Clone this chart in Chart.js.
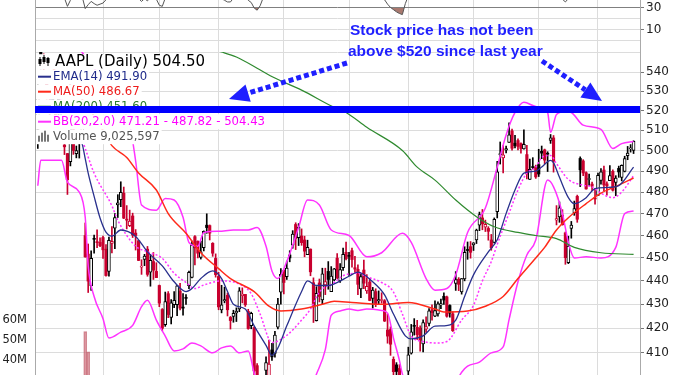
<!DOCTYPE html>
<html>
<head>
<meta charset="utf-8">
<script src="https://cdn.jsdelivr.net/npm/chart.js@4.4.0/dist/chart.umd.min.js"></script>
<style>
  html, body { margin: 0; padding: 0; background: #fff; }
</style>
</head>
<body>
<canvas id="chart" width="685" height="375"></canvas>
<script>
// AAPL daily, Dec 31 2012 .. Oct 17 2013 (bar index 0..201)
const opens = [510.5,553.8,547.9,537.0,522.0,529.2,522.5,528.6,521.0,502.7,
  498.5,494.6,510.3,498.5,504.6,508.8,460.0,451.7,437.8,458.5,
  457.0,456.9,459.1,453.9,444.1,456.5,463.3,474.0,476.5,479.5,
  467.2,464.5,468.9,461.1,457.7,446.0,449.3,453.9,443.8,448.4,
  444.1,438.0,427.8,421.5,434.5,424.5,429.8,429.8,435.6,428.5,
  432.8,437.9,441.5,459.5,457.4,450.2,454.6,464.7,464.5,456.5,
  449.8,441.9,427.6,431.4,433.8,424.5,424.9,426.4,428.1,433.7,
  434.2,427.0,421.1,420.3,404.9,388.0,392.6,403.0,393.5,411.2,
  409.8,420.5,435.1,444.5,441.8,451.3,455.7,465.0,459.0,459.8,
  458.0,451.5,453.9,439.2,423.2,439.1,431.9,438.2,444.1,435.4,
  440.4,449.9,440.0,445.7,452.5,450.7,453.2,445.7,445.0,436.5,
  444.7,435.7,439.5,432.5,435.4,431.4,431.6,431.5,419.3,419.5,
  407.4,405.2,403.8,399.0,392.0,402.7,409.9,420.9,420.4,420.1,
  413.6,419.6,422.0,427.7,425.0,426.0,429.7,433.4,433.1,429.5,
  426.0,438.9,440.7,435.3,440.8,453.6,455.0,455.8,458.0,464.7,
  468.0,463.8,463.2,458.0,456.9,470.9,497.9,496.4,500.2,504.0,
  509.7,503.6,504.9,503.4,500.8,498.0,486.0,491.7,492.0,493.1,
  499.6,500.3,498.4,505.0,506.2,467.0,468.5,469.3,461.2,447.9,
  463.2,470.3,478.0,496.1,494.9,489.2,486.0,483.8,477.3,478.5,
  485.6,490.5,483.9,485.4,489.9,484.6,491.3,487.0,489.8,497.5,
  500.8,500.0];
const highs = [535.4,555.0,549.7,538.6,529.3,531.9,525.0,528.7,525.3,507.5,
  498.6,509.4,510.6,502.2,507.9,514.9,465.7,456.2,453.2,460.2,
  462.6,459.0,459.7,455.9,459.3,464.0,470.0,478.8,484.9,482.4,
  473.7,471.6,470.2,462.7,457.7,449.2,451.6,455.1,451.5,452.4,
  447.9,438.2,428.2,435.2,435.4,432.0,435.4,438.1,438.9,434.5,
  434.1,444.2,457.5,460.0,457.6,457.5,462.1,469.9,464.8,456.8,
  451.8,443.7,438.1,437.3,434.8,424.9,427.5,428.5,437.1,437.0,
  434.2,427.9,426.7,420.6,405.7,399.6,399.2,408.4,415.2,413.9,
  418.8,432.5,445.3,444.9,448.6,453.2,462.2,465.8,465.4,463.0,
  459.7,457.9,454.0,441.3,437.5,440.8,445.5,445.5,448.4,446.2,
  445.4,451.9,447.5,454.4,457.1,452.5,454.4,450.7,447.0,443.2,
  449.1,442.7,441.0,437.2,436.6,435.7,434.9,432.0,425.9,420.6,
  408.4,406.1,405.3,401.0,400.5,412.3,421.6,424.0,423.3,421.0,
  423.5,424.8,428.2,429.8,431.5,431.0,432.2,434.9,433.5,429.8,
  426.9,444.0,441.4,441.0,455.0,457.1,457.3,456.8,462.9,470.7,
  471.9,467.0,464.0,460.5,468.0,494.7,504.2,502.4,502.2,513.7,
  510.6,507.5,505.7,503.8,510.2,502.5,495.8,496.5,492.9,500.6,
  502.2,500.7,499.4,507.9,507.4,473.7,475.4,471.8,461.6,459.7,
  466.4,475.8,478.6,496.9,495.5,489.6,488.6,484.7,481.7,489.1,
  491.2,492.4,484.9,492.6,490.6,487.8,492.4,493.0,497.2,502.0,
  502.9,504.8];
const lows = [501.0,541.6,541.0,525.8,515.2,521.3,515.6,515.2,519.0,498.0,
  478.9,492.5,498.1,496.4,496.3,504.2,450.3,435.0,435.9,452.1,
  454.5,455.0,449.8,442.0,442.0,452.2,454.1,468.2,473.2,467.7,
  463.0,464.0,459.1,453.5,448.8,442.8,446.6,442.0,437.7,440.6,
  441.4,429.0,419.0,420.8,424.4,421.8,428.6,425.2,427.6,425.4,
  430.0,436.6,441.3,446.9,450.0,449.5,453.1,461.0,458.0,450.7,
  441.6,427.7,426.4,430.6,425.1,419.7,422.5,422.8,426.9,430.6,
  429.1,419.6,419.8,398.1,391.7,385.1,388.1,398.8,392.0,407.0,
  408.3,419.7,430.1,434.4,440.6,448.3,454.3,453.7,455.5,455.6,
  450.5,451.5,442.2,422.4,423.0,431.0,430.1,434.1,436.4,435.4,
  440.0,440.9,439.3,444.5,449.1,442.4,446.0,443.7,434.1,432.8,
  436.6,434.6,431.5,428.4,429.0,430.0,430.5,422.8,413.9,409.0,
  398.2,397.6,397.3,393.3,388.9,401.2,409.5,417.2,415.4,410.7,
  410.4,418.3,421.0,423.4,424.8,425.0,428.2,430.0,424.6,424.6,
  418.7,435.9,435.8,434.3,440.0,449.4,449.9,453.3,456.4,462.2,
  462.6,461.8,457.9,453.4,456.6,468.0,493.4,489.1,498.8,504.0,
  500.1,501.3,500.3,498.7,500.6,486.3,486.0,491.1,486.5,487.4,
  496.0,493.6,489.8,503.5,489.5,464.8,466.0,464.7,447.2,447.5,
  458.8,469.2,466.0,482.6,487.8,481.4,483.1,480.7,474.4,478.4,
  483.8,480.7,478.6,485.4,480.5,478.3,487.0,485.3,489.6,495.5,
  499.2,498.5];
const closes = [532.2,549.0,542.1,527.0,523.9,525.3,517.1,523.5,520.3,501.8,
  485.9,506.1,500.0,500.0,504.8,514.0,450.5,439.9,449.8,458.3,
  456.8,455.5,453.6,442.3,457.8,457.4,468.2,475.0,479.9,467.9,
  467.0,466.6,460.2,460.0,448.9,446.1,450.8,442.8,449.0,444.6,
  441.4,430.5,420.0,431.1,425.7,430.6,431.7,437.9,428.4,428.4,
  432.5,443.7,455.7,454.5,452.1,452.7,461.9,463.6,461.1,452.1,
  442.7,428.9,429.8,432.0,427.7,423.2,426.2,427.0,435.7,434.3,
  429.8,419.9,426.2,402.8,392.1,390.5,398.7,406.1,405.5,408.4,
  417.2,430.1,442.8,439.3,445.5,450.0,460.7,458.7,463.8,456.8,
  453.0,454.7,443.9,428.9,434.6,433.3,443.0,439.7,440.6,442.1,
  445.2,441.4,444.9,451.6,449.7,450.7,449.3,445.1,438.5,441.8,
  439.0,437.6,431.6,436.0,430.1,432.0,431.8,423.0,416.8,413.5,
  402.5,402.6,398.1,393.8,396.5,409.2,418.5,420.8,417.4,415.1,
  422.4,420.7,427.3,426.5,427.4,430.2,430.3,431.8,425.0,426.3,
  419.0,440.5,438.5,441.0,452.5,453.3,452.5,456.7,462.5,469.5,
  465.3,465.1,461.9,454.5,467.4,489.6,498.5,497.9,501.0,507.7,
  501.1,502.4,502.0,501.0,503.0,488.6,490.9,491.7,487.2,488.6,
  498.7,495.3,498.2,506.2,494.6,467.7,472.7,464.9,450.1,455.3,
  464.7,472.3,467.4,490.6,489.1,481.5,486.2,482.8,476.8,488.0,
  489.6,483.4,483.0,487.8,480.9,486.6,489.6,492.8,496.0,498.7,
  501.1,504.5];

// volume (millions) for the bars tall enough to show in the window
const volumePts = [[16, 54.2], [17, 44.1]];
const lastVolume = 9025597;

// indicator lines: [bar index, value]
const emaPts = [[0,528],[5,525],[9,515],[13,507],[15,503],[16,496],[17,489],[19,478],[21,468],[23,461.5],
  [25,459.7],[28,462.5],[33,459.6],[37,452.7],[42,446.5],[46,439.6],[50,435.4],[52,436.7],[55,441],[59,444.3],
  [62,441],[64,435.4],[66,430],[70,428],[73,421],[77,413],[79,409],[81,412],[84,421],[89,435.4],
  [91,440],[94,438],[98,438],[100,438.7],[105,442],[108,443.8],[113,439.6],[117,434],[120,425.9],[124,416.9],
  [126,415.7],[130,416.9],[134,420.9],[137,421],[141,423.4],[144,433.3],[147,442.6],[152,452.7],[155,458.1],[158,470],
  [161,481],[164,489],[168,490],[170,492],[173,495.2],[174,494],[176,487],[179,477.4],[181,474.6],[185,477.4],
  [188,481.7],[192,482.2],[196,483.1],[201,491.9]];
const ma50Pts = [[0,548],[10,535],[20,515],[25,502.4],[30,496.6],[34,489.1],[40,481],[44,470],[50,461],[55,452.3],
  [61,445.3],[65,441],[73,435.4],[78,429.2],[82,427.2],[89,428],[96,430],[100,431.3],[106,430.8],[117,430],
  [125,430.8],[134,428],[137,426.8],[145,427.2],[151,429.2],[157,433.3],[162,441],[168,450],[171,454.7],[175,462.5],
  [179,468.1],[185,474.6],[190,479.5],[196,483.3],[201,486.67]];
const ma200Pts = [[0,585],[30,566],[50,556],[62,550.7],[67,548],[74,542],[80,536.8],[89,530.5],[100,521.6],[104,519],
  [111,511.5],[123,500],[128,491.9],[134,485.7],[141,476.3],[148,468.6],[154,464],[162,461.4],[168,460],[175,458.6],
  [181,454.7],[190,452.3],[201,451.6]];
const bbMidPts = [[0,530],[8,525],[12,515],[15,505],[19,489],[25,473.6],[27,466.9],[33,455.2],[37,452.7],[42,449.8],
  [46,443.3],[50,439.3],[53,436.7],[56,438.2],[62,440],[68,438.6],[72,434.5],[75,425.9],[79,414.2],[84,417.1],
  [89,423.4],[92,428],[95,435.2],[100,439.3],[103,442.2],[108,443.3],[111,441.8],[116,439.3],[120,435.2],[123,425.9],
  [126,416.8],[130,414.6],[134,414],[138,414.6],[143,423.4],[147,429.6],[150,440],[153,448.4],[155,456],[159,470.2],
  [162,481],[165,489.1],[168,491.9],[170,496.6],[173,497.6],[175,493.6],[179,486],[184,483.3],[187,482.5],[190,479.5],
  [194,477.4],[197,480],[201,487.82]];
const bbUpPts = [[0,575],[10,560],[20,540],[28,522],[31,513],[33,495],[35,474],[40,471.6],[43,477],[46,476.3],
  [49,468.3],[51,456.9],[54,455.2],[56,461.4],[61,461.9],[66,462.5],[71,462.5],[74,463.6],[77,455.2],[79,444.3],
  [81,441],[84,448.4],[88,463.7],[91,476.3],[95,474],[99,462.5],[105,460],[111,450.5],[116,452.3],[123,461],
  [126,456.9],[131,441],[134,436],[138,436.7],[141,442.6],[145,461.4],[151,472.6],[155,491.9],[158,507.7],[161,519],
  [164,524.2],[168,522],[172,519],[173,509],[175,518],[178,519.5],[180,519],[184,512.6],[190,510.5],[194,501],
  [197,503.4],[201,504.43]];
const bbLowPts = [[0,483],[1,495.2],[8,495.2],[10,484.7],[14,480],[16,468.3],[17,446.5],[19,433.3],[22,424],[24,416],
  [28,418.4],[32,421.2],[35,429],[37,431.7],[40,423.4],[43,416.8],[46,410.8],[49,411.6],[52,414],[55,412.8],
  [59,410],[62,412],[65,412.8],[68,410],[71,410.8],[73,402],[76,392],[82,386],[88,390],[92,396],
  [94,401.5],[97,411.3],[99,425.4],[102,427.2],[105,428],[108,427.4],[111,428],[116,427.4],[118,426.3],[120,416],
  [122,407],[123,401.6],[127,394],[133,390],[139,394],[143,402.3],[145,404.7],[149,406.3],[153,410],[157,412.4],
  [159,423.6],[162,439.6],[165,451.3],[168,458],[172,485.7],[174,482.5],[177,470],[179,457],[181,450],[185,450.5],
  [190,450],[195,454.7],[198,470],[201,471.21]];
const rsiPts = [[0,58],[4,50],[8,42],[9,39],[10,31.5],[11,37],[12,42],[14,45],[15,40],[16,29.5],
  [17,33],[18,36],[19,34],[20,32.5],[21,33.5],[22,34.5],[23,37.5],[24,43],[28,58],[31,48],
  [33,42],[34,38.5],[35,36],[36,38.5],[37,36.5],[38,39.5],[40,38],[41,32.5],[42,31.5],[43,39],
  [47,48],[52,60],[57,62],[60,45],[62,38.5],[63,37],[64,35.5],[65,35.5],[66,39],[68,45],
  [70,41],[71,37],[72,35],[73,30],[74,28],[75,32],[76,39],[80,52],[86,65],[90,55],
  [93,44],[96,52],[104,55],[110,47],[114,43],[117,37.5],[118,33.5],[119,30.5],[120,28.5],[121,26.5],
  [122,25],[123,24],[124,34],[125,41],[130,52],[140,48],[150,68],[158,78],[165,58],[170,64],
  [175,42],[177,38],[178,35.5],[179,38.5],[181,46],[183,58],[190,55],[201,62]];

const monthStarts = [22, 41, 61, 83, 105, 125, 147, 169, 189];
const priceTicks = [410, 420, 430, 440, 450, 460, 470, 480, 490, 500, 510, 520, 530, 540];
const rsiTicks = [-10, 0, 10, 20, 30];
const rsiLabelled = [10, 30];
const volumeTicks = [40, 50, 60];
const resistance = 520;

const RED = '#c8002e', INK = '#000000';
const EMA_C = '#29308d', MA50_C = '#ff2a1a', MA200_C = '#2f8a2f', BB_C = '#ff33ff';

const bars = closes.map((_, i) => i);
const candleColor = i => (closes[i] >= (i ? closes[i - 1] : opens[i]) ? INK : RED);
const isHollow = i => closes[i] > opens[i];
const filled = bars.filter(i => !isHollow(i));
const hollow = bars.filter(i => isHollow(i));
const toXY = pts => pts.map(([x, y]) => ({x, y}));
const lastOf = pts => pts[pts.length - 1][1];

const lineSet = (pts, color, width, order, extra) => Object.assign({
  type: 'line', data: toXY(pts), yAxisID: 'yPrice', borderColor: color, borderWidth: width,
  pointRadius: 0, cubicInterpolationMode: 'monotone', fill: false, order: order
}, extra || {});

const legendRows = [
  {text: 'AAPL (Daily) ' + closes[closes.length - 1].toFixed(2), color: '#000', icon: 'candle', size: 15},
  {text: 'EMA(14) ' + lastOf(emaPts).toFixed(2), color: '#1f2a8a', icon: EMA_C, size: 11.7},
  {text: 'MA(50) ' + lastOf(ma50Pts).toFixed(2), color: '#ee1c1c', icon: MA50_C, size: 11.7},
  {text: 'MA(200) ' + lastOf(ma200Pts).toFixed(2), color: '#2a7a2a', icon: MA200_C, size: 11.7},
  {text: 'BB(20,2.0) ' + lastOf(bbLowPts).toFixed(2) + ' - ' + lastOf(bbMidPts).toFixed(2) + ' - ' + lastOf(bbUpPts).toFixed(2),
   color: '#ff00ff', icon: BB_C, size: 11.7},
  {text: 'Volume ' + lastVolume.toLocaleString('en-US'), color: '#555', icon: 'volume', size: 11.7}
];

function dottedArrow(ctx, x0, y0, x1, y1, headLen, headHalf) {
  const dx = x1 - x0, dy = y1 - y0, len = Math.hypot(dx, dy);
  const ux = dx / len, uy = dy / len;
  const bx = x1 - ux * headLen, by = y1 - uy * headLen;
  ctx.setLineDash([5, 3]);
  ctx.lineWidth = 5;
  ctx.beginPath(); ctx.moveTo(x0, y0); ctx.lineTo(bx, by); ctx.stroke();
  ctx.setLineDash([]);
  ctx.beginPath();
  ctx.moveTo(x1, y1);
  ctx.lineTo(bx - uy * headHalf, by + ux * headHalf);
  ctx.lineTo(bx + uy * headHalf, by - ux * headHalf);
  ctx.closePath(); ctx.fill();
}

const overlay = {
  id: 'overlay',
  afterDatasetsDraw(chart) {
    const {ctx, chartArea: a, scales} = chart;
    ctx.save();
    // legend rows with white backing
    ctx.textBaseline = 'middle';
    legendRows.forEach((r, k) => {
      const cy = 61.7 + 15 * k;
      ctx.font = r.size + 'px "DejaVu Sans"';
      const tx = r.icon === 'candle' ? 55 : 53;
      const w = ctx.measureText(r.text).width;
      ctx.fillStyle = '#fff';
      ctx.fillRect(a.left + 1, cy - 7.5, tx + w + 2 - a.left - 1, 15);
      if (r.icon === 'candle') {
        ctx.fillStyle = '#000';
        [[39.5, 57, 66, 59, 64], [43.5, 55, 64, 57, 62], [47.5, 57, 66, 58, 63]].forEach(([x, t, b, bt, bb]) => {
          ctx.fillRect(x, t, 1, b - t); ctx.fillRect(x - 1, bt, 3, bb - bt);
        });
      } else if (r.icon === 'volume') {
        ctx.fillStyle = '#777';
        [[38, 6], [41, 9], [44, 11], [47, 7]].forEach(([x, h]) => ctx.fillRect(x, cy + 5 - h, 2, h));
      } else {
        ctx.fillStyle = r.icon;
        ctx.fillRect(38, cy - 1, 13, 2);
      }
      ctx.fillStyle = r.color;
      ctx.fillText(r.text, tx, cy + 0.5);
    });
    // resistance line
    const yr = scales.yPrice.getPixelForValue(resistance);
    ctx.strokeStyle = '#0000ff';
    ctx.lineWidth = 7;
    ctx.beginPath(); ctx.moveTo(a.left, yr - 1); ctx.lineTo(a.right, yr - 1); ctx.stroke();
    // note and arrows
    ctx.fillStyle = '#1f1fff';
    ctx.strokeStyle = '#1f1fff';
    ctx.font = 'bold 15.5px "Liberation Sans", Arial, sans-serif';
    ctx.textBaseline = 'alphabetic';
    ctx.fillText('Stock price has not been', 350, 35);
    ctx.fillText('above $520 since last year', 348, 56);
    dottedArrow(ctx, 347, 63, 229, 99, 20, 9);
    dottedArrow(ctx, 542, 61, 602, 101, 20, 9);
    ctx.restore();
  }
};

const tickFont = {family: 'DejaVu Sans', size: 12};
const noPad = s => { s.paddingTop = 0; s.paddingBottom = 0; s.paddingLeft = 0; s.paddingRight = 0; };

new Chart(document.getElementById('chart'), {
  type: 'bar',
  data: {
    datasets: [
      {type: 'line', data: toXY(rsiPts), yAxisID: 'yRsi', borderColor: '#555', borderWidth: 1, pointRadius: 0,
       fill: {target: {value: 30}, above: 'rgba(0,0,0,0)', below: '#a9796f'}, order: 0},
      lineSet(emaPts, EMA_C, 1.3, 1),
      lineSet(ma50Pts, MA50_C, 1.5, 2),
      lineSet(ma200Pts, MA200_C, 1.2, 3),
      lineSet(bbUpPts, BB_C, 1.5, 4),
      lineSet(bbLowPts, BB_C, 1.5, 4),
      lineSet(bbMidPts, BB_C, 1.5, 4, {borderDash: [2, 2]}),
      {data: hollow.map(i => ({x: i, y: [opens[i], closes[i]]})), yAxisID: 'yPrice', grouped: false,
       barThickness: 3, minBarLength: 1, backgroundColor: '#fff', borderColor: hollow.map(candleColor),
       borderWidth: 1, borderSkipped: false, order: 5},
      {data: filled.map(i => ({x: i, y: [opens[i], closes[i]]})), yAxisID: 'yPrice', grouped: false,
       barThickness: 2.5, minBarLength: 1, backgroundColor: filled.map(candleColor), order: 6},
      {data: bars.map(i => ({x: i, y: [lows[i], highs[i]]})), yAxisID: 'yPrice', grouped: false,
       barThickness: 1, backgroundColor: bars.map(candleColor), order: 7},
      {data: toXY(volumePts), yAxisID: 'yVol', grouped: false, barThickness: 3,
       backgroundColor: 'rgba(214,120,132,0.45)', borderColor: 'rgba(190,85,100,0.7)', borderWidth: 1,
       borderSkipped: false, order: 9}
    ]
  },
  options: {
    responsive: false,
    animation: false,
    devicePixelRatio: 1,
    layout: {padding: 0},
    plugins: {legend: {display: false}, tooltip: {enabled: false}},
    scales: {
      x: {
        type: 'linear', min: -0.945, max: 203.17, bounds: 'data', offset: false,
        afterBuildTicks: s => { s.ticks = monthStarts.map(v => ({value: v})); },
        ticks: {display: false, autoSkip: false},
        grid: {color: '#dcdcdc', drawTicks: false, offset: false},
        border: {display: false},
        afterFit: s => { s.height = 0; noPad(s); }
      },
      yRsi: {
        type: 'linear', position: 'right', stack: 'panels', stackWeight: 52,
        min: -10, max: 37.27, bounds: 'data',
        afterBuildTicks: s => { s.ticks = rsiTicks.map(v => ({value: v})); },
        ticks: {autoSkip: false, padding: 2, color: '#222', font: tickFont,
                callback: v => (rsiLabelled.includes(v) ? String(v) : '')},
        grid: {color: c => (c.tick && c.tick.value === 30 ? '#808080' : '#dcdcdc'),
               tickLength: 4, tickColor: c => (c.tick && rsiLabelled.includes(c.tick.value) ? '#777' : 'rgba(0,0,0,0)')},
        border: {color: '#aaa'},
        afterFit: s => { s.width = 45; noPad(s); }
      },
      yPrice: {
        type: 'logarithmic', position: 'right', stack: 'panels', stackWeight: 323,
        min: 401.2, max: 550.7, bounds: 'data',
        afterBuildTicks: s => { s.ticks = priceTicks.map(v => ({value: v})); },
        ticks: {autoSkip: false, padding: 2, color: '#222', font: tickFont, callback: v => String(v)},
        grid: {color: '#dcdcdc', tickLength: 4, tickColor: '#777'},
        border: {color: '#aaa'},
        afterFit: s => { s.width = 45; noPad(s); }
      },
      yVol: {
        type: 'linear', position: 'left', min: 32.5, max: 220, bounds: 'data',
        afterBuildTicks: s => { s.ticks = volumeTicks.map(v => ({value: v})); },
        ticks: {autoSkip: false, padding: 8, color: '#222', font: {family: 'DejaVu Sans', size: 11.5},
                callback: v => v + 'M'},
        grid: {display: false, drawTicks: false},
        border: {display: true, color: '#aaa'},
        afterFit: s => { s.width = 35; noPad(s); }
      }
    }
  },
  plugins: [overlay]
});
</script>
</body>
</html>
